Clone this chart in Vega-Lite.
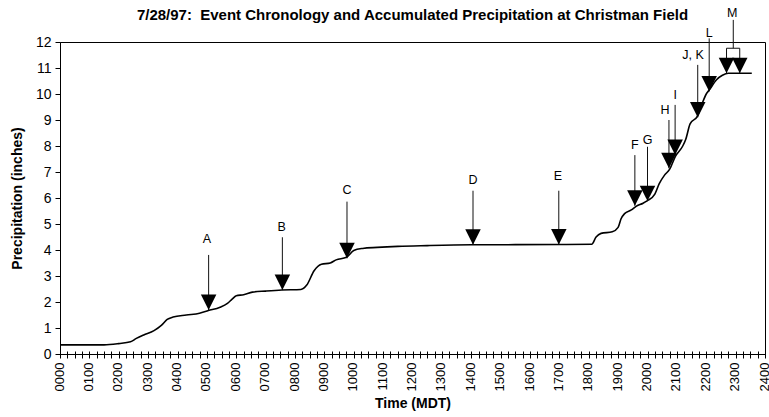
{
  "$schema": "https://vega.github.io/schema/vega-lite/v6.json",
  "width": 705,
  "height": 312,
  "autosize": {"type": "none"},
  "padding": {"left": 60, "top": 42, "right": 4, "bottom": 63},
  "config": {
    "font": "Liberation Sans",
    "view": {"stroke": "#000", "strokeWidth": 1},
    "axis": {"domainColor": "#000", "tickColor": "#000", "labelColor": "#000", "titleColor": "#000", "grid": false}
  },
  "title": {
    "text": "7/28/97:\u00a0 Event Chronology and Accumulated Precipitation at Christman Field",
    "fontSize": 15,
    "fontWeight": "bold",
    "color": "#000",
    "frame": "group",
    "anchor": "middle",
    "offset": -16
  },
  "datasets": {
    "curve": [
      {"t": 0, "v": 0.35}, {"t": 1.5, "v": 0.35}, {"t": 2.0, "v": 0.4}, {"t": 2.4, "v": 0.47},
      {"t": 2.6, "v": 0.6}, {"t": 2.85, "v": 0.73}, {"t": 3.2, "v": 0.9}, {"t": 3.45, "v": 1.1},
      {"t": 3.65, "v": 1.33}, {"t": 3.85, "v": 1.42}, {"t": 4.3, "v": 1.5}, {"t": 4.75, "v": 1.57},
      {"t": 5.05, "v": 1.67}, {"t": 5.45, "v": 1.8}, {"t": 5.7, "v": 1.95}, {"t": 5.85, "v": 2.1},
      {"t": 6.0, "v": 2.24}, {"t": 6.25, "v": 2.28}, {"t": 6.55, "v": 2.38}, {"t": 7.0, "v": 2.42},
      {"t": 7.55, "v": 2.46}, {"t": 8.2, "v": 2.48}, {"t": 8.4, "v": 2.65}, {"t": 8.65, "v": 3.2},
      {"t": 8.9, "v": 3.45}, {"t": 9.2, "v": 3.5}, {"t": 9.4, "v": 3.62}, {"t": 9.75, "v": 3.72},
      {"t": 10.0, "v": 3.98}, {"t": 10.3, "v": 4.06}, {"t": 10.8, "v": 4.1}, {"t": 11.5, "v": 4.14},
      {"t": 12.5, "v": 4.17}, {"t": 14.0, "v": 4.2}, {"t": 17.0, "v": 4.21}, {"t": 18.1, "v": 4.22},
      {"t": 18.25, "v": 4.5}, {"t": 18.42, "v": 4.64}, {"t": 18.8, "v": 4.7}, {"t": 19.0, "v": 4.87},
      {"t": 19.1, "v": 5.2}, {"t": 19.22, "v": 5.4}, {"t": 19.45, "v": 5.54}, {"t": 19.6, "v": 5.67},
      {"t": 19.85, "v": 5.8}, {"t": 20.0, "v": 5.9}, {"t": 20.25, "v": 6.15}, {"t": 20.4, "v": 6.55},
      {"t": 20.58, "v": 6.88}, {"t": 20.75, "v": 7.1}, {"t": 20.95, "v": 7.6}, {"t": 21.2, "v": 8.0},
      {"t": 21.3, "v": 8.25}, {"t": 21.45, "v": 8.85}, {"t": 21.7, "v": 9.15}, {"t": 21.85, "v": 9.6},
      {"t": 22.0, "v": 10.0}, {"t": 22.1, "v": 10.15}, {"t": 22.35, "v": 10.55}, {"t": 22.55, "v": 10.72},
      {"t": 22.75, "v": 10.8}, {"t": 23.55, "v": 10.8}
    ],
    "tips": [
      {"t": 5.06, "v": 1.69}, {"t": 7.57, "v": 2.46}, {"t": 9.77, "v": 3.68}, {"t": 14.06, "v": 4.2},
      {"t": 16.98, "v": 4.21}, {"t": 19.57, "v": 5.7}, {"t": 20.0, "v": 5.88}, {"t": 20.73, "v": 7.14},
      {"t": 20.94, "v": 7.65}, {"t": 21.71, "v": 9.1}, {"t": 22.1, "v": 10.1}, {"t": 22.69, "v": 10.8},
      {"t": 23.14, "v": 10.8}
    ],
    "segments": [
      {"t": 5.06, "v": 1.69, "t2": 5.06, "v2": 3.81},
      {"t": 7.57, "v": 2.46, "t2": 7.57, "v2": 4.49},
      {"t": 9.77, "v": 3.68, "t2": 9.77, "v2": 5.86},
      {"t": 14.06, "v": 4.2, "t2": 14.06, "v2": 6.28},
      {"t": 16.98, "v": 4.21, "t2": 16.98, "v2": 6.28},
      {"t": 19.57, "v": 5.7, "t2": 19.57, "v2": 7.65},
      {"t": 20.0, "v": 5.88, "t2": 20.0, "v2": 7.97},
      {"t": 20.73, "v": 7.14, "t2": 20.73, "v2": 9.0},
      {"t": 20.94, "v": 7.65, "t2": 20.94, "v2": 9.58},
      {"t": 21.71, "v": 9.1, "t2": 21.71, "v2": 11.12},
      {"t": 22.1, "v": 10.1, "t2": 22.1, "v2": 12.14},
      {"t": 22.69, "v": 10.8, "t2": 22.69, "v2": 11.76},
      {"t": 23.14, "v": 10.8, "t2": 23.14, "v2": 11.76},
      {"t": 22.69, "v": 11.76, "t2": 23.14, "v2": 11.76},
      {"t": 22.92, "v": 11.76, "t2": 22.92, "v2": 12.85}
    ],
    "labels": [
      {"label": "A", "t": 5.0, "v": 4.41}, {"label": "B", "t": 7.55, "v": 4.9},
      {"label": "C", "t": 9.77, "v": 6.3}, {"label": "D", "t": 14.06, "v": 6.7},
      {"label": "E", "t": 16.95, "v": 6.85}, {"label": "F", "t": 19.57, "v": 8.04},
      {"label": "G", "t": 20.0, "v": 8.23}, {"label": "H", "t": 20.6, "v": 9.38},
      {"label": "I", "t": 20.94, "v": 9.96}, {"label": "J, K", "t": 21.55, "v": 11.5},
      {"label": "L", "t": 22.1, "v": 12.35}, {"label": "M", "t": 22.88, "v": 13.1}
    ]
  },
  "encoding": {
    "x": {
      "field": "t",
      "type": "quantitative",
      "scale": {"domain": [0, 24], "nice": false, "zero": false},
      "axis": {
        "title": "Time (MDT)",
        "titleFontSize": 14,
        "titleFontWeight": "bold",
        "titlePadding": 6,
        "values": [0,0.25,0.5,0.75,1,1.25,1.5,1.75,2,2.25,2.5,2.75,3,3.25,3.5,3.75,4,4.25,4.5,4.75,5,5.25,5.5,5.75,6,6.25,6.5,6.75,7,7.25,7.5,7.75,8,8.25,8.5,8.75,9,9.25,9.5,9.75,10,10.25,10.5,10.75,11,11.25,11.5,11.75,12,12.25,12.5,12.75,13,13.25,13.5,13.75,14,14.25,14.5,14.75,15,15.25,15.5,15.75,16,16.25,16.5,16.75,17,17.25,17.5,17.75,18,18.25,18.5,18.75,19,19.25,19.5,19.75,20,20.25,20.5,20.75,21,21.25,21.5,21.75,22,22.25,22.5,22.75,23,23.25,23.5,23.75,24],
        "labelExpr": "datum.value % 1 === 0 ? format(datum.value * 100, '04d') : ''",
        "labelAngle": 270,
        "labelFontSize": 13,
        "labelOverlap": false,
        "labelPadding": 4,
        "labelOffset": -1,
        "labelFlush": false,
        "domain": false,
        "offset": -3,
        "tickSize": 7
      }
    },
    "y": {
      "field": "v",
      "type": "quantitative",
      "scale": {"domain": [0, 12], "nice": false},
      "axis": {
        "title": "Precipitation (inches)",
        "titleFontSize": 14,
        "titleFontWeight": "bold",
        "titlePadding": 11,
        "values": [0,1,2,3,4,5,6,7,8,9,10,11,12],
        "labelFontSize": 14,
        "labelPadding": 4,
        "tickSize": 5,
        "labelFlush": false
      }
    }
  },
  "layer": [
    {
      "data": {"name": "curve"},
      "mark": {"type": "line", "color": "#000", "strokeWidth": 1.6, "interpolate": "monotone"}
    },
    {
      "data": {"name": "segments"},
      "mark": {"type": "rule", "color": "#111", "strokeWidth": 1},
      "encoding": {
        "x2": {"field": "t2"},
        "y2": {"field": "v2"}
      }
    },
    {
      "data": {"name": "tips"},
      "mark": {"type": "point", "shape": "M-1,-2L1,-2L0,0Z", "filled": true, "color": "#000", "opacity": 1, "size": 240, "strokeWidth": 0}
    },
    {
      "data": {"name": "labels"},
      "mark": {"type": "text", "fontSize": 12.5, "color": "#000", "baseline": "middle", "align": "center"},
      "encoding": {"text": {"field": "label", "type": "nominal"}}
    }
  ]
}
